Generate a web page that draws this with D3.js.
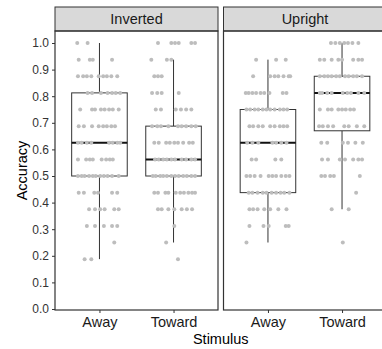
<!DOCTYPE html>
<html>
<head>
<meta charset="utf-8">
<script src="https://cdn.jsdelivr.net/npm/d3@7"></script>
<style>
  body { margin: 0; background: #fff; overflow: hidden; }
  svg { display: block; overflow: hidden; font-family: "Liberation Sans", Arial, sans-serif; }
</style>
</head>
<body>
<div id="chart"></div>
<script>
// facets and stimulus categories
const facets = ['Inverted', 'Upright'];
const categories = ['Away', 'Toward'];
const yTicks = [0, 0.1, 0.2, 0.3, 0.4, 0.5, 0.6, 0.7, 0.8, 0.9, 1.0];

// accuracy values, each row: [accuracy, horizontal jitter of each dot (category units)]
const invertedAway = [
    [1.0,    [-0.30, -0.16]],
    [0.9375, [-0.28, -0.13, -0.09, 0.17]],
    [0.875,  [-0.29, -0.22, -0.17, -0.11, -0.01, 0.05, 0.10, 0.16, 0.24]],
    [0.8125, [-0.16, -0.10, 0.02, 0.11, 0.17, 0.22, 0.28]],
    [0.75,   [-0.26, -0.10, -0.06, 0.02, 0.07, 0.13, 0.18, 0.26]],
    [0.6875, [-0.28, -0.21, -0.10, -0.01, 0.05, 0.10, 0.16, 0.21]],
    [0.625,  [-0.29, -0.24, -0.17, -0.11, 0.13, 0.18, 0.24, 0.28]],
    [0.5625, [-0.29, -0.18, -0.13, -0.09, 0.03, 0.09, 0.14, 0.18]],
    [0.5,    [-0.29, -0.24, -0.20, -0.14, -0.09, -0.05, 0.01, 0.06, 0.11, 0.17, 0.26]],
    [0.4375, [-0.28, -0.21, -0.07, -0.02, 0.17, 0.24]],
    [0.375,  [-0.14, -0.06, 0.01, 0.07, 0.20, 0.26]],
    [0.3125, [-0.17, -0.06, 0.06, 0.17, 0.24]],
    [0.25,   [0.20]],
    [0.1875, [-0.20, -0.11]]
];
const invertedToward = [
    [1.0,    [-0.21, -0.03, 0.02, 0.07, 0.24, 0.29]],
    [0.9375, [-0.30, -0.09, -0.03]],
    [0.875,  [-0.26, -0.21, -0.16]],
    [0.8125, [-0.29, -0.22, -0.16, 0.07]],
    [0.75,   [-0.24, -0.17, 0.03, 0.10, 0.17, 0.24]],
    [0.6875, [-0.29, -0.22, -0.17, -0.07, 0.06, 0.11, 0.17, 0.24, 0.30]],
    [0.625,  [-0.26, -0.20, -0.10, -0.05, 0.01, 0.06, 0.13, 0.21, 0.26]],
    [0.5625, [-0.25, -0.20, -0.14, -0.09, -0.03, 0.02, 0.11, 0.17, 0.24, 0.29]],
    [0.5,    [-0.28, -0.24, -0.18, -0.14, -0.09, -0.03, 0.02, 0.07, 0.13, 0.18, 0.24, 0.29]],
    [0.4375, [-0.26, -0.21, -0.11, -0.07, 0.03, 0.09, 0.14, 0.20, 0.25, 0.29]],
    [0.375,  [-0.21, -0.16, -0.07, 0.01, 0.11, 0.18, 0.25]],
    [0.3125, [0.01]],
    [0.25,   [-0.10]],
    [0.1875, [0.06]]
];
const uprightAway = [
    [0.9375, [-0.16, 0.11, 0.24]],
    [0.875,  [-0.20, 0.03, 0.09, 0.14, 0.21, 0.28, 0.30]],
    [0.8125, [-0.30, -0.26, -0.21, -0.16, -0.10, -0.05, 0.02, 0.20, 0.25]],
    [0.75,   [-0.29, -0.24, -0.18, -0.13, -0.07, -0.02, 0.03, 0.09, 0.16, 0.21, 0.26]],
    [0.6875, [-0.25, -0.20, -0.13, -0.07, 0.03, 0.09, 0.16, 0.21, 0.26]],
    [0.625,  [-0.28, -0.21, -0.13, 0.06, 0.11, 0.18, 0.25]],
    [0.5625, [-0.22, -0.16, 0.10, 0.18]],
    [0.5,    [-0.29, -0.24, -0.18, -0.10, 0.01, 0.06, 0.11, 0.18, 0.24, 0.29]],
    [0.4375, [-0.26, -0.21, -0.14, -0.07, -0.02, 0.05, 0.11, 0.17, 0.22, 0.29]],
    [0.375,  [-0.25, -0.20, -0.14, -0.05, 0.03, 0.14, 0.25]],
    [0.3125, [-0.25, -0.06, 0.01, 0.24, 0.28]],
    [0.25,   [-0.29]]
];
const uprightToward = [
    [1.0,    [-0.15, -0.09, -0.03, 0.03, 0.08, 0.14, 0.22]],
    [0.9375, [-0.30, -0.24, -0.14, -0.05, 0.00, 0.15, 0.22, 0.27]],
    [0.875,  [-0.30, -0.24, -0.19, -0.14, -0.08, -0.03, 0.04, 0.09, 0.15, 0.20, 0.27]],
    [0.8125, [-0.30, -0.27, -0.20, -0.14, 0.01, 0.07, 0.12, 0.22, 0.30]],
    [0.75,   [-0.30, -0.19, -0.14, -0.05, 0.00, 0.05, 0.11, 0.16]],
    [0.6875, [-0.31, -0.26, -0.19, -0.12, 0.03, 0.09, 0.20, 0.30]],
    [0.625,  [-0.28, -0.20, 0.01, 0.08, 0.18, 0.28]],
    [0.5625, [-0.27, -0.19, -0.03, 0.04, 0.15, 0.22, 0.27]],
    [0.5,    [-0.28, -0.23, -0.16, -0.11, 0.24]],
    [0.4375, [0.19]],
    [0.375,  [-0.14, 0.09]],
    [0.25,   [0.01]]
];

// box statistics, order: Inverted/Away, Inverted/Toward, Upright/Away, Upright/Toward
const boxLow    = [0.1875, 0.25, 0.25, 0.375];
const boxQ1     = [0.5, 0.5, 0.4375, 0.67];
const boxMedian = [0.625, 0.5625, 0.625, 0.8125];
const boxQ3     = [0.8125, 0.6875, 0.75, 0.875];
const boxHigh   = [1.0, 0.9375, 0.9375, 1.0];

const groups = [
    { facet: 'Inverted', cat: 'Away', rows: invertedAway },
    { facet: 'Inverted', cat: 'Toward', rows: invertedToward },
    { facet: 'Upright', cat: 'Away', rows: uprightAway },
    { facet: 'Upright', cat: 'Toward', rows: uprightToward }
];
groups.forEach((g, i) => {
    g.low = boxLow[i]; g.q1 = boxQ1[i]; g.median = boxMedian[i];
    g.q3 = boxQ3[i]; g.high = boxHigh[i];
    g.points = [];
    g.rows.forEach(r => r[1].forEach(j => g.points.push({ value: r[0], jitter: j })));
});

const width = 382, height = 349;
const margin = { top: 7, left: 55, bottom: 39 };
const stripHeight = 24;
const panelWidth = 163;
const panelGap = 5.5;
const panelTop = margin.top + stripHeight;
const panelBottom = height - margin.bottom;

const svg = d3.select('#chart').append('svg')
    .attr('width', width)
    .attr('height', height);

const y = d3.scaleLinear()
    .domain([0, 1])
    .range([panelBottom - 1, panelTop + 12]);

facets.forEach((f, fi) => {
    // the right panel runs past the edge of the picture, as in the original crop
    const x0 = margin.left + fi * (panelWidth + panelGap);
    const x = d3.scalePoint()
        .domain(categories)
        .range([x0, x0 + panelWidth])
        .padding(0.6);
    const step = x.step();
    const boxWidth = 0.75 * step;

    const panel = svg.append('g').classed('panel', true);

    // strip
    panel.append('rect')
        .attr('x', x0)
        .attr('y', margin.top)
        .attr('width', panelWidth)
        .attr('height', stripHeight)
        .attr('fill', '#d9d9d9')
        .attr('stroke', '#333')
        .attr('stroke-width', 1);
    panel.append('text')
        .attr('x', x0 + panelWidth / 2)
        .attr('y', margin.top + stripHeight / 2 + 5)
        .attr('text-anchor', 'middle')
        .attr('font-size', '14.5px')
        .attr('fill', '#1a1a1a')
        .text(f);

    // x axis
    const xAxis = panel.append('g')
        .attr('transform', 'translate(0,' + panelBottom + ')')
        .call(d3.axisBottom(x).tickSize(3).tickPadding(4));
    xAxis.select('.domain').remove();
    xAxis.selectAll('line').attr('stroke', '#333');
    xAxis.selectAll('text')
        .attr('font-size', '14.5px')
        .attr('fill', '#1a1a1a')
        .attr('font-family', '"Liberation Sans", Arial, sans-serif');

    const fg = groups.filter(g => g.facet === f);

    // boxplots
    const box = panel.selectAll('.box')
        .data(fg)
        .enter().append('g')
        .classed('box', true);
    box.append('line')
        .attr('x1', d => x(d.cat)).attr('x2', d => x(d.cat))
        .attr('y1', d => y(d.high)).attr('y2', d => y(d.q3))
        .attr('stroke', '#333');
    box.append('line')
        .attr('x1', d => x(d.cat)).attr('x2', d => x(d.cat))
        .attr('y1', d => y(d.q1)).attr('y2', d => y(d.low))
        .attr('stroke', '#333');
    box.append('rect')
        .attr('x', d => x(d.cat) - boxWidth / 2)
        .attr('y', d => y(d.q3))
        .attr('width', boxWidth)
        .attr('height', d => y(d.q1) - y(d.q3))
        .attr('fill', '#fff')
        .attr('stroke', '#333');
    box.append('line')
        .attr('x1', d => x(d.cat) - boxWidth / 2).attr('x2', d => x(d.cat) + boxWidth / 2)
        .attr('y1', d => y(d.median)).attr('y2', d => y(d.median))
        .attr('stroke', '#111')
        .attr('stroke-width', 2);

    // jittered points
    fg.forEach(g => {
        panel.selectAll(null)
            .data(g.points)
            .enter().append('circle')
            .attr('cx', d => x(g.cat) + d.jitter * step)
            .attr('cy', d => y(d.value))
            .attr('r', 2)
            .attr('fill', '#bdbdbd');
    });

    // panel border
    panel.append('rect')
        .attr('x', x0)
        .attr('y', panelTop)
        .attr('width', panelWidth)
        .attr('height', panelBottom - panelTop)
        .attr('fill', 'none')
        .attr('stroke', '#333')
        .attr('stroke-width', 1.2);
});

// y axis on first panel
const yAxis = svg.append('g')
    .attr('transform', 'translate(' + margin.left + ',0)')
    .call(d3.axisLeft(y).tickValues(yTicks).tickFormat(d3.format('.1f')).tickSize(3).tickPadding(3));
yAxis.select('.domain').remove();
yAxis.selectAll('line').attr('stroke', '#333');
yAxis.selectAll('text')
    .attr('font-size', '12px')
    .attr('fill', '#333')
    .attr('font-family', '"Liberation Sans", Arial, sans-serif');

// axis titles
svg.append('text')
    .attr('x', margin.left + panelWidth + panelGap / 2)
    .attr('y', height - 5)
    .attr('text-anchor', 'middle')
    .attr('font-size', '14.5px')
    .attr('fill', '#000')
    .text('Stimulus');
svg.append('text')
    .attr('transform', 'translate(27,' + ((panelTop + panelBottom) / 2) + ') rotate(-90)')
    .attr('text-anchor', 'middle')
    .attr('font-size', '14.5px')
    .attr('fill', '#000')
    .text('Accuracy');
</script>
</body>
</html>
